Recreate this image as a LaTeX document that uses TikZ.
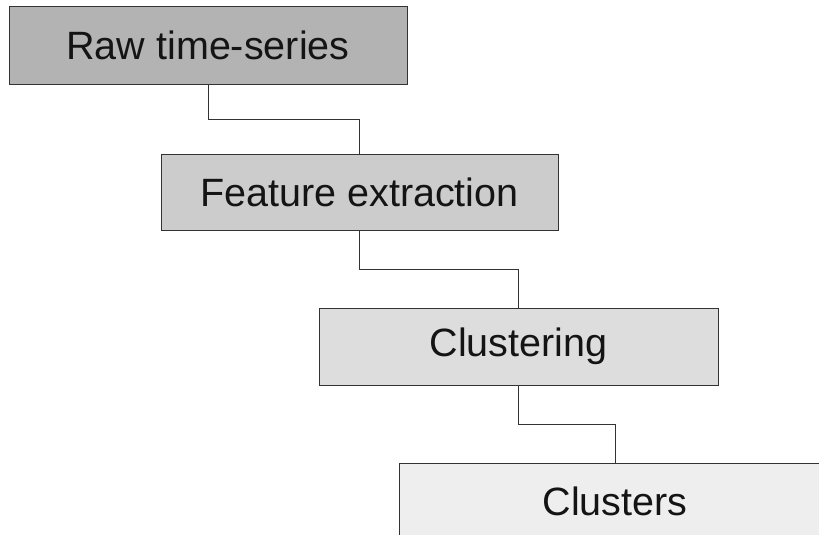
\documentclass[tikz,border=0pt]{standalone}
\usepackage{fontspec}
\setmainfont{Liberation Sans}
\usetikzlibrary{calc}
\definecolor{frame}{HTML}{333333}
\definecolor{fillA}{HTML}{B3B3B3}
\definecolor{fillB}{HTML}{CCCCCC}
\definecolor{fillC}{HTML}{DDDDDD}
\definecolor{fillD}{HTML}{EEEEEE}
\tikzset{
  stagebox/.style={draw=frame, line width=1pt, rectangle, inner sep=0pt,
    font=\fontsize{39.5}{46}\selectfont, text=black!92},
  link/.style={draw=frame, line width=0.9pt}
}
\begin{document}
\begin{tikzpicture}[x=1pt,y=-1pt]
  \useasboundingbox (0,0) rectangle (819,535);
  \clip (0,0) rectangle (819,535);
  \node[stagebox, fill=fillA, minimum width=398pt, minimum height=77pt] (raw) at (208,45.5) {Raw time-series};
  \node[stagebox, fill=fillB, minimum width=397pt, minimum height=76pt] (feat) at (359.5,192) {Feature extraction};
  \node[stagebox, fill=fillC, minimum width=399pt, minimum height=77pt] (clus) at (518.5,346.5) {Clustering};
  \node[stagebox, fill=fillD, minimum width=432pt, minimum height=77pt] (out) at (615,501.5) {Clusters};
  \draw[link] (raw.south) -- ($(raw.south)!0.5!(raw.south|-feat.north)$) -| (feat.north);
  \draw[link] (feat.south) -- ($(feat.south)!0.5!(feat.south|-clus.north)$) -| (clus.north);
  \draw[link] (clus.south) -- ($(clus.south)!0.5!(clus.south|-out.north)$) -| (out.north);
\end{tikzpicture}
\end{document}
